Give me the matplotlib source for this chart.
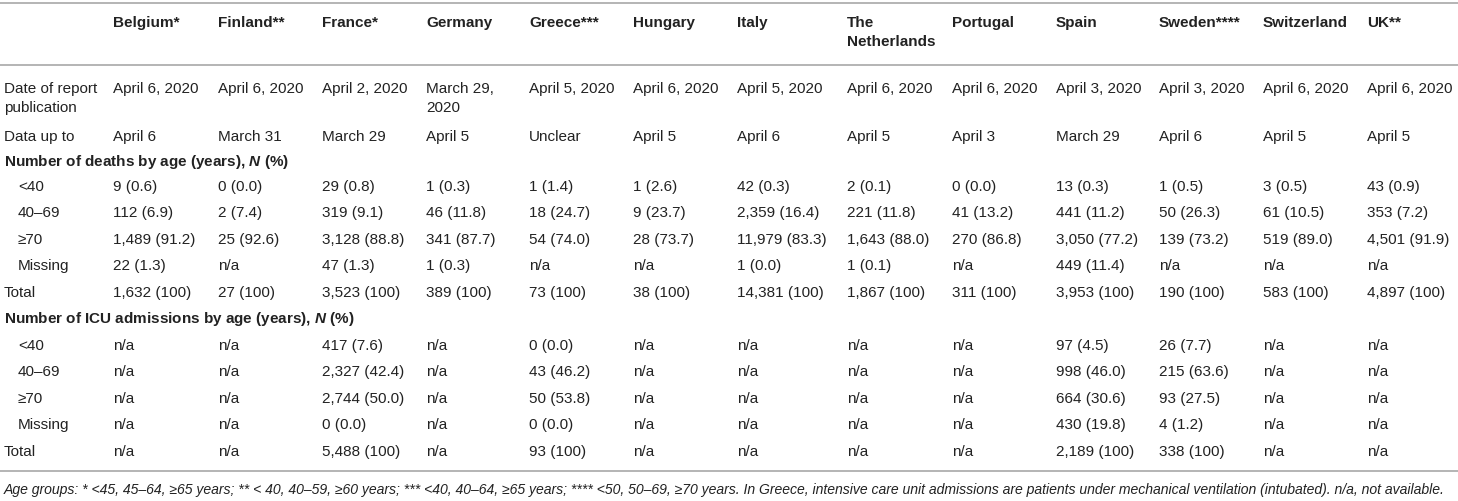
import matplotlib
matplotlib.use("Agg")
import matplotlib.pyplot as plt

# ==========================
# Table content
# ==========================
countries = ["Belgium*", "Finland**", "France*", "Germany", "Greece***", "Hungary",
             "Italy", "The\nNetherlands", "Portugal", "Spain", "Sweden****",
             "Switzerland", "UK**"]

report_date = ["April 6, 2020", "April 6, 2020", "April 2, 2020", "March 29,\n2020",
               "April 5, 2020", "April 6, 2020", "April 5, 2020", "April 6, 2020",
               "April 6, 2020", "April 3, 2020", "April 3, 2020", "April 6, 2020",
               "April 6, 2020"]
data_up_to = ["April 6", "March 31", "March 29", "April 5", "Unclear", "April 5",
              "April 6", "April 5", "April 3", "March 29", "April 6", "April 5", "April 5"]

deaths_lt40 = ["9 (0.6)", "0 (0.0)", "29 (0.8)", "1 (0.3)", "1 (1.4)", "1 (2.6)",
               "42 (0.3)", "2 (0.1)", "0 (0.0)", "13 (0.3)", "1 (0.5)", "3 (0.5)", "43 (0.9)"]
deaths_40_69 = ["112 (6.9)", "2 (7.4)", "319 (9.1)", "46 (11.8)", "18 (24.7)", "9 (23.7)",
                "2,359 (16.4)", "221 (11.8)", "41 (13.2)", "441 (11.2)", "50 (26.3)",
                "61 (10.5)", "353 (7.2)"]
deaths_ge70 = ["1,489 (91.2)", "25 (92.6)", "3,128 (88.8)", "341 (87.7)", "54 (74.0)",
               "28 (73.7)", "11,979 (83.3)", "1,643 (88.0)", "270 (86.8)", "3,050 (77.2)",
               "139 (73.2)", "519 (89.0)", "4,501 (91.9)"]
deaths_missing = ["22 (1.3)", "n/a", "47 (1.3)", "1 (0.3)", "n/a", "n/a", "1 (0.0)",
                  "1 (0.1)", "n/a", "449 (11.4)", "n/a", "n/a", "n/a"]
deaths_total = ["1,632 (100)", "27 (100)", "3,523 (100)", "389 (100)", "73 (100)",
                "38 (100)", "14,381 (100)", "1,867 (100)", "311 (100)", "3,953 (100)",
                "190 (100)", "583 (100)", "4,897 (100)"]

icu_lt40 = ["n/a", "n/a", "417 (7.6)", "n/a", "0 (0.0)", "n/a", "n/a", "n/a", "n/a",
            "97 (4.5)", "26 (7.7)", "n/a", "n/a"]
icu_40_69 = ["n/a", "n/a", "2,327 (42.4)", "n/a", "43 (46.2)", "n/a", "n/a", "n/a", "n/a",
             "998 (46.0)", "215 (63.6)", "n/a", "n/a"]
icu_ge70 = ["n/a", "n/a", "2,744 (50.0)", "n/a", "50 (53.8)", "n/a", "n/a", "n/a", "n/a",
            "664 (30.6)", "93 (27.5)", "n/a", "n/a"]
icu_missing = ["n/a", "n/a", "0 (0.0)", "n/a", "0 (0.0)", "n/a", "n/a", "n/a", "n/a",
               "430 (19.8)", "4 (1.2)", "n/a", "n/a"]
icu_total = ["n/a", "n/a", "5,488 (100)", "n/a", "93 (100)", "n/a", "n/a", "n/a", "n/a",
             "2,189 (100)", "338 (100)", "n/a", "n/a"]

deaths_header = "Number of deaths by age (years), $N$ (%)"
icu_header = "Number of ICU admissions by age (years), $N$ (%)"

footnote = ("Age groups: * <45, 45–64, ≥65 years; ** < 40, 40–59, ≥60 years; "
            "*** <40, 40–64, ≥65 years; **** <50, 50–69, ≥70 years. In Greece, intensive "
            "care unit admissions are patients under mechanical ventilation (intubated). "
            "n/a, not available.")

# rows: (label, values, indented)
rows = [
    ("Date of report\npublication", report_date, False),
    ("Data up to", data_up_to, False),
    (deaths_header, None, False),
    ("<40", deaths_lt40, True),
    ("40–69", deaths_40_69, True),
    ("≥70", deaths_ge70, True),
    ("Missing", deaths_missing, True),
    ("Total", deaths_total, False),
    (icu_header, None, False),
    ("<40", icu_lt40, True),
    ("40–69", icu_40_69, True),
    ("≥70", icu_ge70, True),
    ("Missing", icu_missing, True),
    ("Total", icu_total, False),
]

# ==========================
# Layout (pixels, y from top)
# ==========================
W, H = 1458, 501
col_x = [113, 218, 322, 426, 529, 633, 737, 847, 952, 1056, 1159, 1263, 1367]
label_x = 4
indent_x = 18
row_y = [88, 136, 161, 186, 212, 239, 265, 292, 318, 345, 371, 398, 424, 451]
header_y = 22
line_gap = 19
rule_y = [3, 65, 471]
foot_y = 489

txt_color = "#222222"
rule_color = "#b4b4b4"
fs = 11

plt.rcParams["font.family"] = ["Liberation Sans", "DejaVu Sans"]
plt.rcParams["mathtext.fontset"] = "custom"
plt.rcParams["mathtext.it"] = "Liberation Sans:italic:bold"
plt.rcParams["mathtext.rm"] = "Liberation Sans:bold"

fig = plt.figure(figsize=(W / 100, H / 100), dpi=100)
ax = fig.add_axes([0, 0, 1, 1])
ax.set_xlim(0, W)
ax.set_ylim(H, 0)
ax.axis("off")


def cell(x, y, s, **kw):
    # draw multi-line text line by line, y = visual centre of first line
    for i, part in enumerate(s.split("\n")):
        ax.text(x, y + i * line_gap + 5, part, va="baseline", ha="left",
                fontsize=fs, color=txt_color, **kw)


for y in rule_y:
    ax.plot([0, W], [y, y], color=rule_color, lw=1.4, solid_capstyle="butt")

for x, c in zip(col_x, countries):
    cell(x, header_y, c, fontweight="bold")

for (label, values, indented), y in zip(rows, row_y):
    if values is None:
        cell(label_x, y, label, fontweight="bold")
        continue
    cell(indent_x if indented else label_x, y, label)
    for x, v in zip(col_x, values):
        cell(x, y, v)

# footnote, shrunk to fit the width
ft = ax.text(label_x, foot_y + 5, footnote, va="baseline", ha="left",
             fontsize=fs, style="italic", color=txt_color)
fig.canvas.draw()
bb = ft.get_window_extent(renderer=fig.canvas.get_renderer())
ft.set_fontsize(fs * (W - 10 - label_x) / bb.width)

fig.savefig("out.png", dpi=100)
